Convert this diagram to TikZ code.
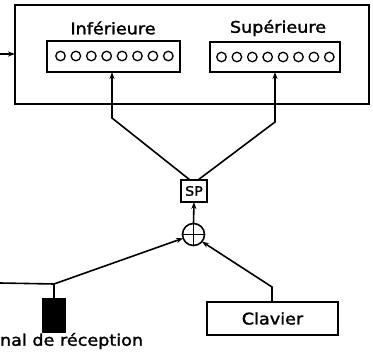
\documentclass[tikz,border=0pt]{standalone}
\usepackage{fontspec}
\newfontfamily\labfont[FakeStretch=1.1,FakeBold=1.6]{DejaVu Sans}
\usetikzlibrary{arrows.meta}
\begin{document}
\begin{tikzpicture}[x=1pt,y=-1pt,
  line width=1.6pt,
  every node/.style={inner sep=0pt,outer sep=0pt},
  frame/.style={draw,rectangle},
  lab/.style={font=\labfont\fontsize{16}{19}\selectfont},
  lamp/.style={draw,circle,minimum size=9.5pt,line width=1.3pt},
  arr/.style={-{Stealth[length=7pt,width=5pt]}}
]
\useasboundingbox (0,0) rectangle (373,359);
% outer display frame
\node[frame,minimum width=354pt,minimum height=99pt] (outer) at (192,54.5) {};
% display groups
\node[frame,minimum width=133pt,minimum height=31pt] (low) at (113.5,56.5) {};
\node[frame,minimum width=130pt,minimum height=30pt] (high) at (275,57) {};
\node[lab] (lowlab) at (113,28) {Inférieure};
\node[lab] (highlab) at (278,28) {Supérieure};
\foreach \i in {0,...,7}{
  \node[lamp] (l\i) at ({60.5+15.4*\i},56) {};
  \node[lamp] (h\i) at ({221.5+15.4*\i},57) {};
}
% SP box and summing junction
\node[frame,minimum width=26pt,minimum height=22pt,font=\labfont\fontsize{13}{15}\selectfont] (sp) at (194,191) {SP};
\node[draw,circle,minimum size=22pt] (sum) at (193.5,234.5) {};
\draw[line width=1.3pt] (sum.north) -- (sum.south) (sum.west) -- (sum.east);
% receiver and keyboard
\node[draw,fill=black,minimum width=22pt,minimum height=33pt] (recv) at (54,315.5) {};
\node[lab,anchor=west] (recvlab) at (0,341) {nal de réception};
\node[frame,minimum width=131pt,minimum height=33pt,lab] (clav) at (272.5,318.5) {Clavier};
% coordinates
\coordinate (in) at (0,54);
\coordinate (sigin) at (0,283);
\coordinate (j) at (54,284);
\coordinate (kb) at (272,287);
\coordinate (lc) at (112,118);
\coordinate (rc) at (275,122);
\coordinate (spl) at (190,180);
\coordinate (spr) at (198,180);
% connectors
\draw[arr] (in) -- (outer.west |- in);
\draw[arr] (spl) -- (lc) -- (lc |- low.south);
\draw[arr] (spr) -- (rc) -- (rc |- high.south);
\draw[arr] (sum.north) -- (sp.south);
\draw (sigin) -- (j);
\draw (j) -- (recv.north);
\draw[arr] (j) -- (sum.200);
\draw[arr] (clav.north -| kb) -- (kb) -- (sum.-40);
\end{tikzpicture}
\end{document}
